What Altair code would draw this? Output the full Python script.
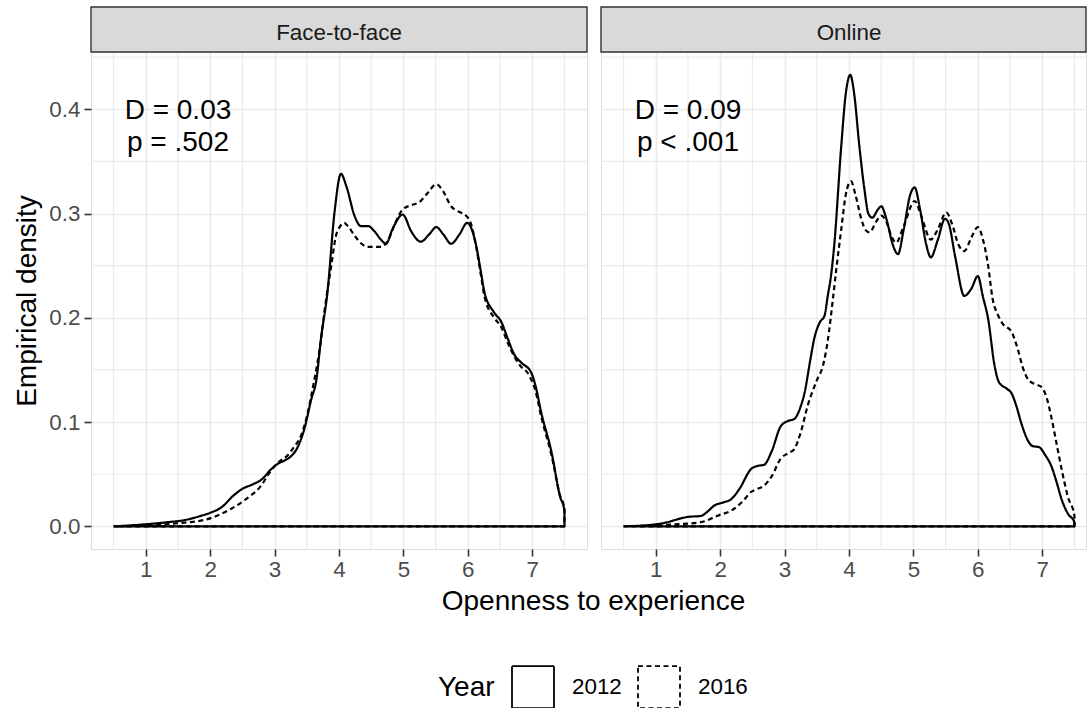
import altair as alt
import pandas as pd

# Kernel density estimates of "Openness to experience" by survey mode and year
ftf_2012_x = [0.5, 1.0, 1.34, 1.6, 1.85, 2.0, 2.17, 2.37, 2.5, 2.65, 2.8, 2.95, 3.05, 3.15, 3.25,
              3.35, 3.46, 3.57, 3.65, 3.72, 3.82, 3.93, 4.03, 4.12, 4.24, 4.34, 4.45, 4.55, 4.65,
              4.73, 4.83, 4.99, 5.12, 5.27, 5.4, 5.51, 5.62, 5.74, 5.87, 5.99, 6.06, 6.13, 6.2,
              6.26, 6.41, 6.52, 6.62, 6.72, 6.83, 6.98, 7.05, 7.14, 7.3, 7.43, 7.5]
ftf_2012_y = [0.0, 0.002, 0.004, 0.006, 0.010, 0.013, 0.018, 0.030, 0.036, 0.040, 0.045, 0.055, 0.060,
              0.063, 0.067, 0.075, 0.093, 0.122, 0.141, 0.180, 0.224, 0.301, 0.338, 0.325, 0.298,
              0.288, 0.288, 0.283, 0.275, 0.271, 0.285, 0.299, 0.283, 0.273, 0.280, 0.287, 0.280,
              0.271, 0.280, 0.291, 0.285, 0.269, 0.245, 0.224, 0.205, 0.196, 0.180, 0.165, 0.157,
              0.148, 0.135, 0.109, 0.071, 0.029, 0.015]

ftf_2016_x = [0.5, 1.0, 1.5, 1.96, 2.27, 2.53, 2.79, 2.94, 3.07, 3.2, 3.3, 3.41, 3.5, 3.6, 3.7, 3.8,
              3.88, 3.95, 4.02, 4.08, 4.15, 4.24, 4.35, 4.45, 4.65, 4.76, 4.88, 4.99, 5.12, 5.25,
              5.38, 5.51, 5.62, 5.74, 5.85, 5.97, 6.05, 6.13, 6.2, 6.26, 6.41, 6.52, 6.62, 6.72,
              6.8, 6.95, 7.05, 7.14, 7.3, 7.43, 7.5]
ftf_2016_y = [0.0, 0.001, 0.003, 0.007, 0.015, 0.025, 0.039, 0.053, 0.062, 0.068, 0.076, 0.087, 0.105,
              0.135, 0.170, 0.218, 0.250, 0.278, 0.288, 0.291, 0.287, 0.279, 0.271, 0.268, 0.268,
              0.274, 0.292, 0.304, 0.308, 0.311, 0.320, 0.328, 0.321, 0.307, 0.302, 0.298, 0.290,
              0.268, 0.242, 0.220, 0.200, 0.191, 0.176, 0.163, 0.155, 0.145, 0.130, 0.105, 0.068,
              0.030, 0.017]

onl_2012_x = [0.5, 1.0, 1.18, 1.35, 1.49, 1.7, 1.8, 1.91, 2.05, 2.17, 2.3, 2.48, 2.58, 2.68, 2.8,
              2.94, 3.05, 3.15, 3.25, 3.31, 3.4, 3.46, 3.55, 3.62, 3.67, 3.72, 3.77, 3.88, 3.95,
              4.02, 4.08, 4.16, 4.24, 4.3, 4.36, 4.45, 4.5, 4.58, 4.68, 4.76, 4.85, 4.95, 5.02,
              5.1, 5.2, 5.27, 5.38, 5.49, 5.55, 5.65, 5.79, 5.9, 6.0, 6.08, 6.16, 6.26, 6.33, 6.45,
              6.52, 6.6, 6.67, 6.78, 6.85, 6.95, 7.05, 7.14, 7.22, 7.3, 7.4, 7.5]
onl_2012_y = [0.0, 0.002, 0.004, 0.007, 0.009, 0.010, 0.014, 0.020, 0.023, 0.026, 0.036, 0.055, 0.058,
              0.059, 0.072, 0.096, 0.101, 0.103, 0.115, 0.128, 0.160, 0.180, 0.196, 0.202, 0.221,
              0.240, 0.269, 0.365, 0.415, 0.433, 0.415, 0.365, 0.323, 0.300, 0.296, 0.304, 0.307,
              0.295, 0.270, 0.261, 0.285, 0.318, 0.325, 0.305, 0.270, 0.258, 0.275, 0.295, 0.290,
              0.258, 0.221, 0.228, 0.240, 0.220, 0.199, 0.154, 0.138, 0.132, 0.128, 0.115, 0.100,
              0.082, 0.077, 0.076, 0.068, 0.058, 0.043, 0.026, 0.012, 0.004]

onl_2016_x = [0.5, 1.0, 1.3, 1.7, 1.95, 2.22, 2.35, 2.48, 2.58, 2.68, 2.8, 2.94, 3.05, 3.15, 3.25,
              3.36, 3.5, 3.6, 3.67, 3.75, 3.8, 3.88, 3.95, 4.03, 4.1, 4.19, 4.26, 4.32, 4.42, 4.5,
              4.58, 4.66, 4.73, 4.85, 5.02, 5.12, 5.27, 5.38, 5.51, 5.6, 5.7, 5.79, 5.9, 6.0, 6.08,
              6.16, 6.23, 6.31, 6.39, 6.52, 6.62, 6.7, 6.78, 6.9, 6.98, 7.06, 7.14, 7.22, 7.3, 7.4,
              7.5]
onl_2016_y = [0.0, 0.001, 0.002, 0.004, 0.010, 0.017, 0.024, 0.033, 0.036, 0.039, 0.048, 0.065, 0.070,
              0.074, 0.090, 0.116, 0.140, 0.155, 0.178, 0.218, 0.245, 0.285, 0.318, 0.331, 0.318,
              0.295, 0.284, 0.282, 0.292, 0.298, 0.292, 0.278, 0.272, 0.288, 0.312, 0.298, 0.275,
              0.285, 0.301, 0.290, 0.270, 0.264, 0.277, 0.287, 0.275, 0.250, 0.218, 0.203, 0.194,
              0.187, 0.170, 0.152, 0.141, 0.136, 0.134, 0.125, 0.105, 0.080, 0.055, 0.028, 0.010]

MODES = ["Face-to-face", "Online"]
YEARS = ["2012", "2016"]
KS_NOTES = ["D = 0.03\np = .502", "D = 0.09\np < .001"]

X_BREAKS = [1, 2, 3, 4, 5, 6, 7]
X_MINOR = [0.5, 1.5, 2.5, 3.5, 4.5, 5.5, 6.5, 7.5]
Y_BREAKS = [0.0, 0.1, 0.2, 0.3, 0.4]
Y_MINOR = [0.05, 0.15, 0.25, 0.35, 0.45]

series = [
    (MODES[0], YEARS[0], ftf_2012_x, ftf_2012_y),
    (MODES[0], YEARS[1], ftf_2016_x, ftf_2016_y),
    (MODES[1], YEARS[0], onl_2012_x, onl_2012_y),
    (MODES[1], YEARS[1], onl_2016_x, onl_2016_y),
]


def outline(mode, year, xs, ys):
    # density curve closed down to the baseline, traced in path order like a polygon outline
    px = list(xs) + [xs[-1], xs[0]]
    py = list(ys) + [0.0, 0.0]
    return pd.DataFrame({"mode": mode, "year": year, "openness": px, "density": py,
                         "seq": range(len(px))})


curves = pd.concat([outline(*s) for s in series], ignore_index=True)

FONT = "Liberation Sans"
GRID = "#EBEBEB"
INK = "#333333"

PANEL_W = 496
PANEL_H = 497
STRIP_H = 45
X_LO = 0.15
PX_PER_UNIT = PANEL_W / 7.7
Y_DOMAIN = [-0.0217, 0.4549]

year_dash = alt.StrokeDash(
    "year:N",
    scale=alt.Scale(domain=YEARS, range=[[1, 0], [5, 3.5]]),
    legend=alt.Legend(
        title="Year",
        orient="none",
        legendX=347,
        legendY=613,
        direction="horizontal",
        titleOrient="left",
        titleFontSize=28,
        titleFontWeight="normal",
        titleColor="black",
        titleFont=FONT,
        titlePadding=16,
        titleBaseline="middle",
        symbolType="square",
        symbolSize=1764,
        symbolStrokeColor="black",
        symbolStrokeWidth=1.8,
        symbolFillColor="white",
        symbolOpacity=1,
        labelFontSize=22.4,
        labelColor="black",
        labelFont=FONT,
        labelOffset=17,
        columnPadding=12,
        padding=0,
    ),
)


def panel(idx, width):
    mode = MODES[idx]
    x_hi = X_LO + width / PX_PER_UNIT
    xscale = alt.Scale(domain=[X_LO, x_hi], nice=False, zero=False)
    yscale = alt.Scale(domain=Y_DOMAIN, nice=False, zero=False)
    x_axis = alt.Axis(
        values=X_BREAKS, format="d", title=None, domain=False,
        grid=True, gridColor=GRID, gridWidth=1.7,
        ticks=True, tickSize=7, tickColor=INK, tickWidth=1.6,
        labelFontSize=22.4, labelColor="#4D4D4D", labelFont=FONT, labelPadding=2,
    )
    if idx == 0:
        y_axis = alt.Axis(
            values=Y_BREAKS, format=".1f", title="Empirical density", domain=False,
            grid=True, gridColor=GRID, gridWidth=1.7,
            ticks=True, tickSize=7, tickColor=INK, tickWidth=1.6,
            labelFontSize=22.4, labelColor="#4D4D4D", labelFont=FONT, labelPadding=4,
            titleFontSize=28, titleFontWeight="normal", titleColor="black", titleFont=FONT,
            titlePadding=7,
        )
    else:
        y_axis = alt.Axis(
            values=Y_BREAKS, title=None, domain=False, labels=False, ticks=False,
            grid=True, gridColor=GRID, gridWidth=1.7,
        )

    minor_x = alt.Chart(pd.DataFrame({"openness": X_MINOR})).mark_rule(
        color=GRID, strokeWidth=1.2
    ).encode(x=alt.X("openness:Q", scale=xscale, axis=x_axis))
    minor_y = alt.Chart(pd.DataFrame({"density": Y_MINOR})).mark_rule(
        color=GRID, strokeWidth=1.2
    ).encode(y=alt.Y("density:Q", scale=yscale, axis=y_axis))

    dens = alt.Chart(curves[curves["mode"] == mode]).mark_line(
        interpolate="monotone", color="black", strokeWidth=2.2, strokeJoin="round",
    ).encode(
        x=alt.X("openness:Q", scale=xscale, axis=x_axis),
        y=alt.Y("density:Q", scale=yscale, axis=y_axis),
        strokeDash=year_dash,
        order=alt.Order("seq:Q"),
    )

    note = alt.Chart(pd.DataFrame({"openness": [1.5], "density": [0.4], "label": [KS_NOTES[idx]]})).mark_text(
        font=FONT, fontSize=28, color="black", align="center", baseline="middle",
        lineBreak="\n", lineHeight=32, dy=2,
    ).encode(
        x=alt.X("openness:Q", scale=xscale, axis=x_axis),
        y=alt.Y("density:Q", scale=yscale, axis=y_axis),
        text="label:N",
    )

    strip_df = pd.DataFrame({"mode": [mode]})
    strip_bg = alt.Chart(strip_df).mark_rect(
        fill="#D9D9D9", stroke=INK, strokeWidth=1.4
    ).encode(
        x=alt.value(0), x2=alt.value(width), y=alt.value(-STRIP_H), y2=alt.value(0)
    )
    strip_txt = alt.Chart(strip_df).mark_text(
        font=FONT, fontSize=22.4, color="#1A1A1A", baseline="middle", align="center"
    ).encode(
        x=alt.value((4.0 - X_LO) * PX_PER_UNIT), y=alt.value(-19.4), text="mode:N"
    )

    layers = [minor_x, minor_y, dens, note, strip_bg, strip_txt]
    if idx == 0:
        x_title = alt.Chart(pd.DataFrame({"t": ["Openness to experience"]})).mark_text(
            font=FONT, fontSize=28, color="black", align="center", baseline="alphabetic"
        ).encode(x=alt.value(502.5), y=alt.value(558), text="t:N")
        layers.append(x_title)

    return alt.layer(*layers).properties(width=width, height=PANEL_H)


chart = alt.hconcat(panel(0, PANEL_W), panel(1, 485), spacing=14, bounds="flush").properties(
    padding={"left": 13, "top": 5, "right": 0, "bottom": 0},
    background="white",
).configure_view(
    stroke=INK, strokeWidth=1.5
).configure(
    font=FONT
)

chart.save("out.html", embed_options={"renderer": "svg", "actions": False})
